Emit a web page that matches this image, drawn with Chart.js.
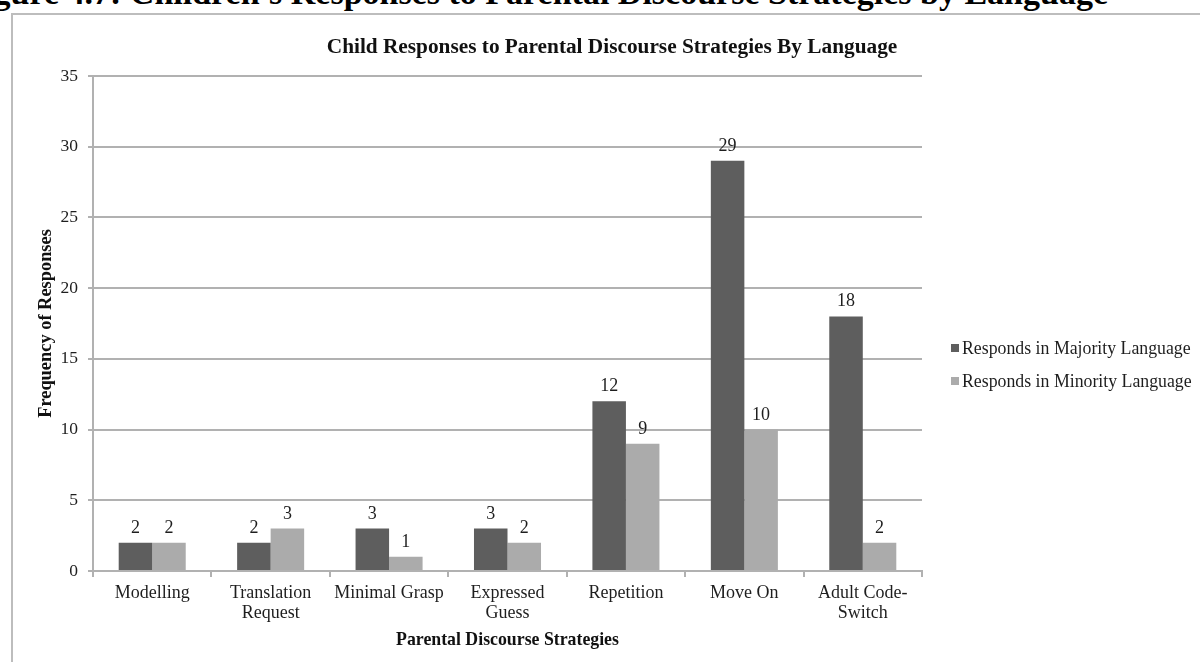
<!DOCTYPE html>
<html>
<head>
<meta charset="utf-8">
<title>Child Responses to Parental Discourse Strategies By Language</title>
<script src="https://cdn.jsdelivr.net/npm/chart.js@4.4.1/dist/chart.umd.min.js"></script>
<style>
  html, body { margin: 0; padding: 0; background: #fff; overflow: hidden; }
  body { width: 1200px; height: 662px; position: relative; }
  .heading {
    position: absolute; right: 92px; top: -24.5px;
    font: bold 34px "Liberation Serif", serif; line-height: 34px;
    white-space: nowrap; color: #000;
  }
  .frame {
    position: absolute; left: 11px; top: 13px; width: 1300px; height: 800px;
    border: 2px solid #bdbdbd; box-sizing: border-box;
  }
  #chart { position: absolute; left: 0; top: 0; }
</style>
</head>
<body>
<div class="heading">Figure 4.7: Children's Responses to Parental Discourse Strategies by Language</div>
<div class="frame"></div>
<canvas id="chart" width="1200" height="662"></canvas>
<script>
const strategies = [
  'Modelling',
  ['Translation', 'Request'],
  'Minimal Grasp',
  ['Expressed', 'Guess'],
  'Repetition',
  'Move On',
  ['Adult Code-', 'Switch']
];
const majorityLanguage = [2, 2, 3, 3, 12, 29, 18];
const minorityLanguage = [2, 3, 1, 2, 9, 10, 2];
const seriesNames = ['Responds in Majority Language', 'Responds in Minority Language'];
const chartTitle = 'Child Responses to Parental Discourse Strategies By Language';

const serif = '"Liberation Serif", "Times New Roman", serif';
const textColor = '#1e1e1e';
const lineColor = '#b1b1b1';

// value printed above every bar
const barValues = {
  id: 'barValues',
  afterDatasetsDraw(chart) {
    const ctx = chart.ctx;
    ctx.save();
    ctx.font = '18px ' + serif;
    ctx.fillStyle = textColor;
    ctx.textAlign = 'center';
    ctx.textBaseline = 'alphabetic';
    chart.data.datasets.forEach((ds, i) => {
      chart.getDatasetMeta(i).data.forEach((bar, j) => {
        ctx.fillText(String(ds.data[j]), bar.x, bar.y - 10);
      });
    });
    ctx.restore();
  }
};

// heading over the plot and the key on the right
const headingAndKey = {
  id: 'headingAndKey',
  afterDraw(chart) {
    const ctx = chart.ctx;
    const area = chart.chartArea;
    ctx.save();
    ctx.fillStyle = '#111';
    ctx.font = 'bold 21.3px ' + serif;
    ctx.textAlign = 'center';
    ctx.textBaseline = 'middle';
    ctx.fillText(chartTitle, 612, 47);

    ctx.font = '17.8px ' + serif;
    ctx.textAlign = 'left';
    chart.data.datasets.forEach((ds, i) => {
      const y = 348 + i * 33;
      ctx.fillStyle = ds.backgroundColor;
      ctx.fillRect(area.right + 29, y - 4, 8, 8);
      ctx.fillStyle = textColor;
      ctx.fillText(ds.label, area.right + 40, y + 1);
    });
    ctx.restore();
  }
};

new Chart(document.getElementById('chart'), {
  type: 'bar',
  data: {
    labels: strategies,
    datasets: [
      {
        label: seriesNames[0],
        data: majorityLanguage,
        backgroundColor: '#5e5e5e',
        categoryPercentage: 0.566,
        barPercentage: 1.0
      },
      {
        label: seriesNames[1],
        data: minorityLanguage,
        backgroundColor: '#ababab',
        categoryPercentage: 0.566,
        barPercentage: 1.0
      }
    ]
  },
  options: {
    responsive: false,
    animation: false,
    layout: { padding: { left: 20, right: 278, top: 76, bottom: 10 } },
    plugins: {
      legend: { display: false },
      title: { display: false },
      tooltip: { enabled: false }
    },
    scales: {
      x: {
        grid: {
          offset: true,
          drawOnChartArea: false,
          color: lineColor,
          lineWidth: 2,
          tickLength: 6
        },
        border: { color: lineColor, width: 2 },
        ticks: {
          color: textColor,
          font: { family: serif, size: 18, lineHeight: 1.12 },
          padding: 6,
          maxRotation: 0,
          autoSkip: false
        },
        title: {
          display: true,
          text: 'Parental Discourse Strategies',
          color: '#111',
          font: { family: serif, size: 17.8, weight: 'bold', lineHeight: 1.2 },
          padding: { top: 0, bottom: 1 }
        },
        afterFit(scale) { scale.height = 81; }
      },
      y: {
        min: 0,
        max: 35,
        grid: {
          color: lineColor,
          lineWidth: 2,
          tickLength: 5
        },
        border: { color: lineColor, width: 2 },
        ticks: {
          stepSize: 5,
          color: textColor,
          font: { family: serif, size: 17.5 },
          padding: 10
        },
        title: {
          display: true,
          text: 'Frequency of Responses',
          color: '#111',
          font: { family: serif, size: 18.4, weight: 'bold', lineHeight: 1.2 },
          padding: { top: 15, bottom: 0 }
        },
        afterFit(scale) { scale.width = 73; }
      }
    }
  },
  plugins: [barValues, headingAndKey]
});
</script>
</body>
</html>
